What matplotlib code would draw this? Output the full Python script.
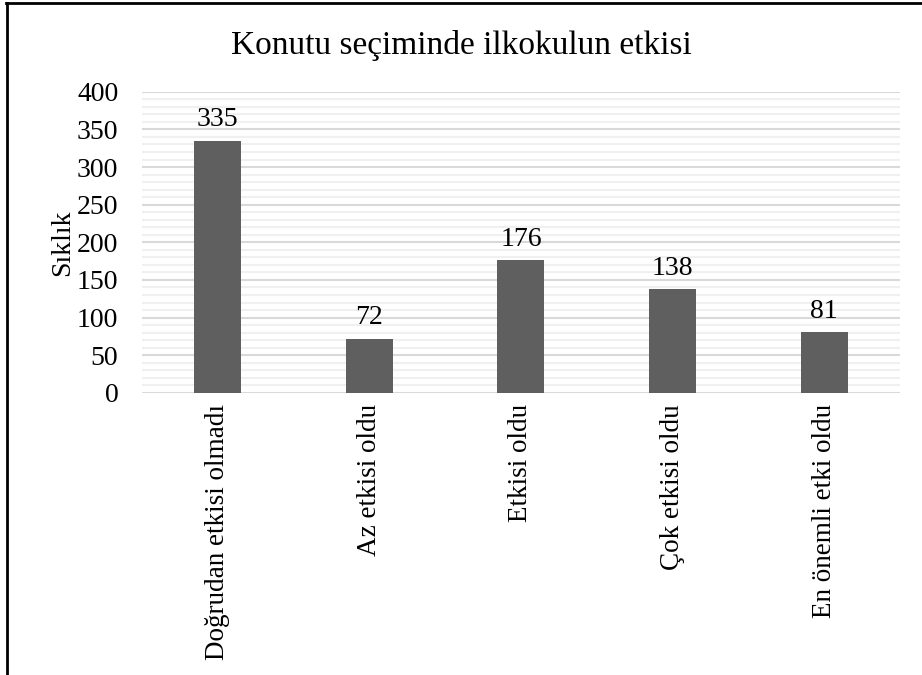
import matplotlib.pyplot as plt
from matplotlib.lines import Line2D
from matplotlib.ticker import MultipleLocator

categories = ["Doğrudan etkisi olmadı", "Az etkisi oldu", "Etkisi oldu",
              "Çok etkisi oldu", "En önemli etki oldu"]
values = [335, 72, 176, 138, 81]

plt.rcParams["font.family"] = ["Liberation Serif", "DejaVu Serif"]

fig = plt.figure(figsize=(9.22, 6.75), dpi=100)
ax = fig.add_axes([0.154, 0.418, 0.822, 0.446])

x = range(len(categories))
ax.bar(x, values, width=0.31, color="#5f5f5f", zorder=3)

for xi, v in zip(x, values):
    ax.text(xi, v + 11, str(v), ha="center", va="bottom", fontsize=20)

ax.set_xlim(-0.5, len(categories) - 0.5)
ax.set_ylim(0, 400)
ax.yaxis.set_major_locator(MultipleLocator(50))
ax.yaxis.set_minor_locator(MultipleLocator(10))
ax.grid(axis="y", which="major", color="#d9d9d9", linewidth=1.5, zorder=0)
ax.grid(axis="y", which="minor", color="#f0f0f0", linewidth=1.5, zorder=0)

ax.set_xticks(list(x))
ax.set_xticklabels(categories, rotation=90, fontsize=19.5)
ax.tick_params(axis="both", which="both", length=0, labelsize=20)
ax.tick_params(axis="x", pad=8, labelsize=19.5)
ax.tick_params(axis="y", pad=17)
for s in ax.spines.values():
    s.set_visible(False)

ax.set_ylabel("Sıklık", fontsize=20, labelpad=1)
fig.text(0.5, 0.932, "Konutu seçiminde ilkokulun etkisi", ha="center",
         va="center", fontsize=24)

# frame around the figure (only left and top are visible in the crop)
fig.add_artist(Line2D([0.008, 0.008], [0, 0.996], transform=fig.transFigure,
                      color="black", linewidth=2))
fig.add_artist(Line2D([0.007, 1.0], [0.996, 0.996], transform=fig.transFigure,
                      color="black", linewidth=2))

fig.savefig("out.png", dpi=100)
